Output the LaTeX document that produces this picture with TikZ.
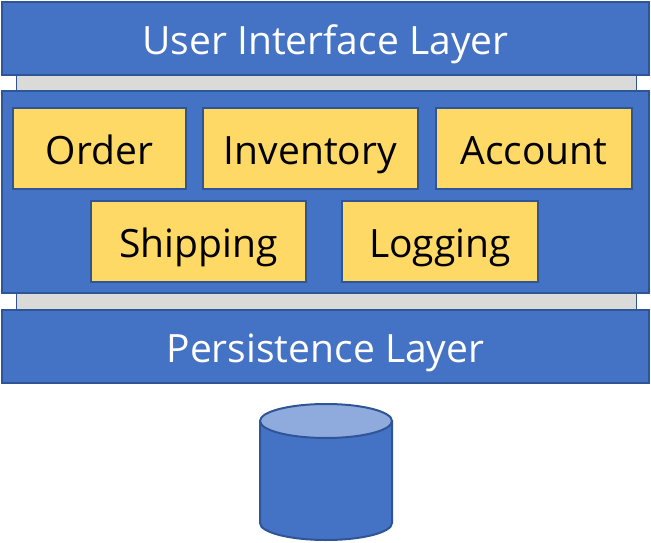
\documentclass[tikz,border=0pt]{standalone}
\usepackage{fontspec}
\setmainfont{Open Sans}
\definecolor{layerblue}{HTML}{4472C4}
\definecolor{layeredge}{HTML}{2F5597}
\definecolor{moduleyellow}{HTML}{FFD966}
\definecolor{busgray}{HTML}{DADBD9}
\definecolor{dbtop}{HTML}{8FAADC}
\tikzset{
    layer/.style={draw=layeredge, line width=2pt, fill=layerblue, text=white, font=\fontsize{39}{42}\selectfont, text height=32pt, text depth=0pt, minimum width=647pt, inner sep=0pt, outer sep=0pt},
    bus/.style={draw=layeredge, line width=1pt, fill=busgray, minimum width=620pt, inner sep=0pt, outer sep=0pt},
    module/.style={draw=layeredge, line width=2pt, fill=moduleyellow, text=black, font=\fontsize{39}{42}\selectfont, text height=32pt, text depth=0pt, inner sep=0pt, outer sep=0pt},
    drum/.style={draw=layeredge, line width=2pt},
}
\begin{document}
\begin{tikzpicture}[x=1pt, y=-1pt]
    \useasboundingbox (0,0) rectangle (651,543);
    \node [bus, minimum height=17pt] (busa) at (326,83.5) {};
    \node [bus, minimum height=18pt] (busb) at (326,301.5) {};
    \node [layer, minimum height=73pt] (ui) at (325.5,38.5) {User Interface Layer};
    \node [layer, minimum height=202pt] (core) at (325.5,192) {};
    \node [layer, minimum height=73pt] (persistence) at (325.5,346.5) {Persistence Layer};
    \node [module, minimum width=173pt, minimum height=81pt] (order) at (99.5,148.5) {Order};
    \node [module, minimum width=215pt, minimum height=81pt] (inventory) at (310.5,148.5) {Inventory};
    \node [module, minimum width=196pt, minimum height=81pt] (account) at (534,148.5) {Account};
    \node [module, minimum width=215pt, minimum height=81pt] (shipping) at (198.5,241) {Shipping};
    \node [module, minimum width=196pt, minimum height=81pt] (logging) at (440,241) {Logging};
    \coordinate (storetop) at (326,421);
    \coordinate (storebottom) at (326,523);
    \draw [drum, fill=layerblue] ([xshift=-66pt]storetop) -- ([xshift=-66pt]storebottom) arc [start angle=180, end angle=360, x radius=66pt, y radius=17pt] -- ([xshift=66pt]storetop) -- cycle;
    \draw [drum, fill=dbtop] (storetop) ellipse [x radius=66pt, y radius=17pt];
\end{tikzpicture}
\end{document}
